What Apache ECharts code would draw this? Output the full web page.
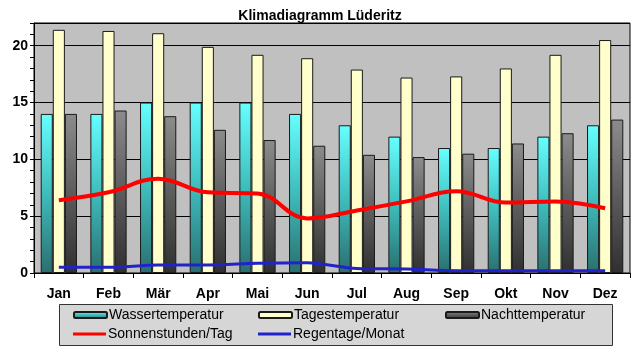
<!DOCTYPE html>
<html><head><meta charset="utf-8">
<script src="https://cdn.jsdelivr.net/npm/echarts@6/dist/echarts.min.js"></script>
<style>html,body{margin:0;padding:0;background:#fff}#c{width:640px;height:349px}</style>
</head><body><div id="c"></div>
<script>
const months = ['Jan','Feb','Mär','Apr','Mai','Jun','Jul','Aug','Sep','Okt','Nov','Dez'];
const wasser = [14,14,15,15,15,14,13,12,11,11,12,13];
const tages = [21.4,21.3,21.1,19.9,19.2,18.9,17.9,17.2,17.3,18.0,19.2,20.5];
const nacht = [14.0,14.3,13.8,12.6,11.7,11.2,10.4,10.2,10.5,11.4,12.3,13.5];
const sonne = [6.4,7.1,8.3,7.1,7.0,4.8,5.5,6.3,7.2,6.2,6.3,5.7];
const regen = [0.5,0.5,0.7,0.7,0.85,0.9,0.4,0.35,0.2,0.2,0.2,0.2];
const yMax = 22;

const font = 'Liberation Sans, Arial, sans-serif';
const gWasser = new echarts.graphic.LinearGradient(0,0,0,1,[{offset:0,color:'#66ffff'},{offset:0.5,color:'#3fbcbc'},{offset:1,color:'#2a6f6f'}]);
const gNacht = new echarts.graphic.LinearGradient(0,0,0,1,[{offset:0,color:'#8c8c8c'},{offset:0.5,color:'#5c5c5c'},{offset:1,color:'#303030'}]);

const chart = echarts.init(document.getElementById('c'));
const legendBase = {orient:'horizontal', padding:0, itemGap:0, textStyle:{fontFamily:font,fontSize:14,color:'#000',padding:[0,0,0,-3]}, selectedMode:false};
chart.setOption({
  animation:false,
  backgroundColor:'#fff',
  title:{text:'Klimadiagramm Lüderitz', left:'center', top:4, textStyle:{fontFamily:font,fontSize:14,fontWeight:'bold',color:'#000'}},
  graphic:[{type:'rect', shape:{x:59.5,y:304.5,width:553,height:41}, style:{fill:'#d6d6d6',stroke:'#333',lineWidth:1}, z:-1}],
  legend:[
    Object.assign({}, legendBase, {left:73, top:308, itemWidth:33, itemHeight:6, data:[{name:'Wassertemperatur'}]}),
    Object.assign({}, legendBase, {left:258, top:308, itemWidth:33, itemHeight:6, data:[{name:'Tagestemperatur'}]}),
    Object.assign({}, legendBase, {left:445, top:308, itemWidth:33, itemHeight:6, data:[{name:'Nachttemperatur'}]}),
    Object.assign({}, legendBase, {left:73, top:327, itemWidth:33, itemHeight:3, data:[{name:'Sonnenstunden/Tag', icon:'rect'}]}),
    Object.assign({}, legendBase, {left:258, top:327, itemWidth:33, itemHeight:3, data:[{name:'Regentage/Monat', icon:'rect'}]})
  ],
  grid:{left:34, right:10, top:23, bottom:76, show:true, backgroundColor:'#c0c0c0', borderColor:'#000', borderWidth:1},
  xAxis:{type:'category', data:months, boundaryGap:true,
    axisLine:{lineStyle:{color:'#000'}},
    axisTick:{show:true, inside:false, length:5, alignWithLabel:false, lineStyle:{color:'#000'}},
    axisLabel:{fontFamily:font, fontSize:14, fontWeight:'bold', color:'#000', margin:14}},
  yAxis:[
    {type:'value', min:0, max:yMax, interval:1,
     axisLine:{show:true, lineStyle:{color:'#000'}},
     axisTick:{show:true, length:4, lineStyle:{color:'#000'}},
     splitLine:{show:false},
     axisLabel:{fontFamily:font, fontSize:14, fontWeight:'bold', color:'#000', margin:6,
       formatter:v => (v % 5 === 0 ? String(v) : '')}},
    {type:'value', min:0, max:yMax, interval:5, position:'left',
     axisLine:{show:false}, axisTick:{show:false}, axisLabel:{show:false},
     splitLine:{show:true, lineStyle:{color:'#000', width:1}}}
  ],
  series:[
    {name:'Wassertemperatur', type:'bar', data:wasser, barGap:'0%', barCategoryGap:'27%',
     itemStyle:{color:gWasser, borderColor:'#1a1a1a', borderWidth:1}},
    {name:'Tagestemperatur', type:'bar', data:tages,
     itemStyle:{color:'#ffffcc', borderColor:'#1a1a1a', borderWidth:1}},
    {name:'Nachttemperatur', type:'bar', data:nacht,
     itemStyle:{color:gNacht, borderColor:'#1a1a1a', borderWidth:1}},
    {name:'Sonnenstunden/Tag', type:'line', data:sonne, smooth:0.4, showSymbol:false, z:5,
     lineStyle:{color:'#ff0000', width:4}, itemStyle:{color:'#ff0000'}},
    {name:'Regentage/Monat', type:'line', data:regen, smooth:0.3, showSymbol:false, z:5,
     lineStyle:{color:'#2222cc', width:3}, itemStyle:{color:'#2222cc'}}
  ]
});
</script></body></html>
